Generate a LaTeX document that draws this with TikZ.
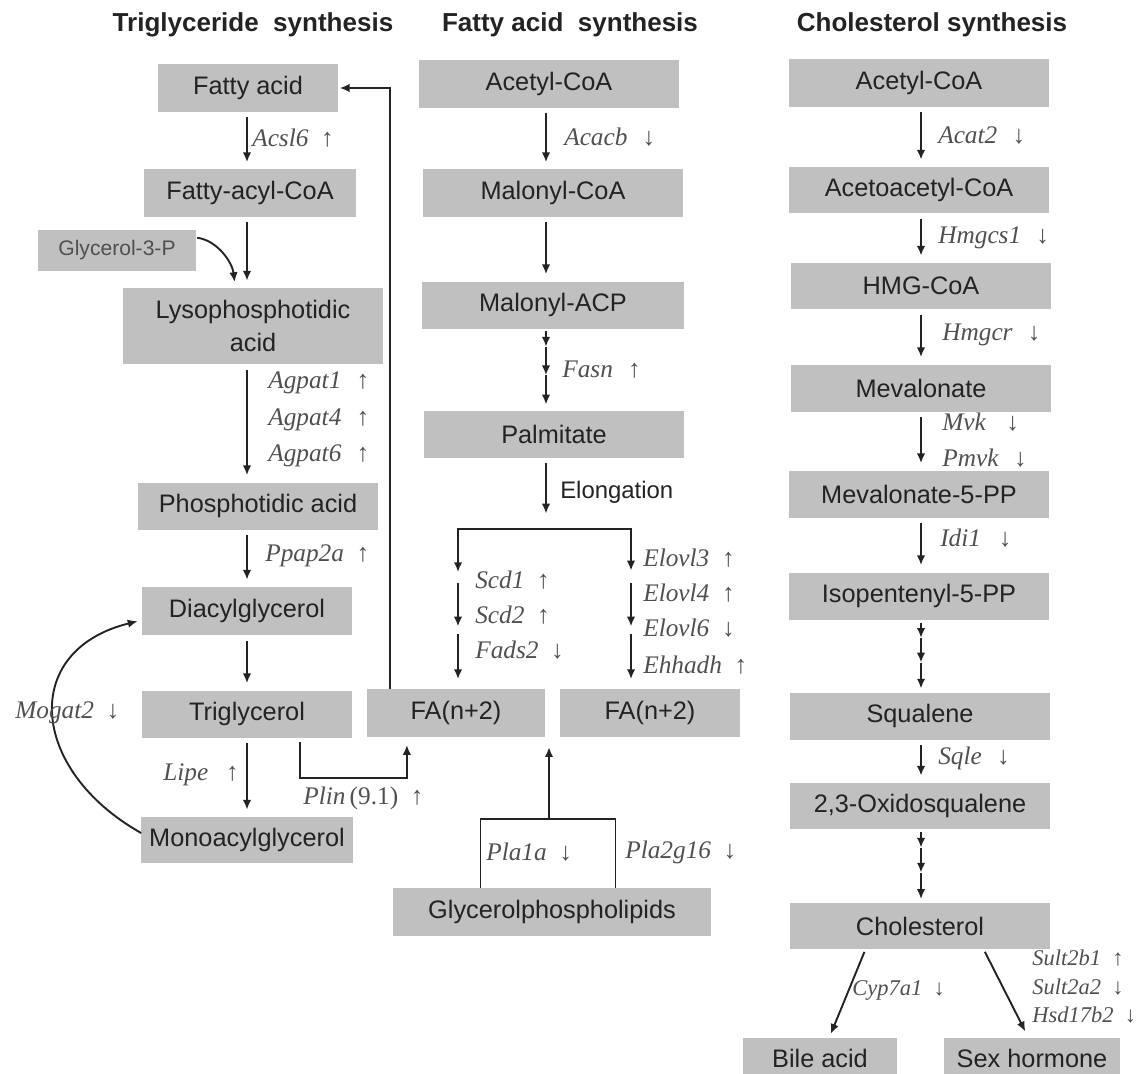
\documentclass[tikz,border=0pt]{standalone}
\usepackage{fontspec}
\setmainfont{Liberation Serif}
\setsansfont{Liberation Sans}
\usetikzlibrary{arrows.meta,calc}

\definecolor{boxgray}{RGB}{192,192,192}
\definecolor{ink}{RGB}{35,35,35}
\definecolor{genegray}{RGB}{80,80,80}

\begin{document}
\begin{tikzpicture}[x=0.025cm,y=-0.025cm,
    box/.style={fill=boxgray, inner sep=0pt, minimum height=1.175cm, text=ink, font=\sffamily\fontsize{18}{23}\selectfont},
    heading/.style={text=ink, font=\sffamily\bfseries\fontsize{18.5}{22}\selectfont},
    gene/.style={anchor=west, inner sep=0pt, text=genegray, font=\fontsize{18}{20}\selectfont},
    small gene/.style={gene, font=\fontsize{16}{18}\selectfont},
    wire/.style={draw=ink, line width=1.35pt},
    flow/.style={wire, -{Latex[length=7pt,width=6pt]}, shorten <=4pt, shorten >=5pt},
    relay/.style={flow, shorten <=0pt, shorten >=0pt}]
    \useasboundingbox (0,0) rectangle (1136,1073);

    % titles
    \node[heading] (ttl1) at (253,25) {Triglyceride\ \ synthesis};
    \node[heading] (ttl2) at (570,25) {Fatty acid\ \ synthesis};
    \node[heading] (ttl3) at (932,25) {Cholesterol synthesis};

    % triglyceride synthesis
    \node[box, minimum width=4.5cm] (tfa) at (248,88) {Fatty acid};
    \node[box, minimum width=5.275cm] (tacyl) at (250,193) {Fatty-acyl-CoA};
    \node[box, minimum width=3.925cm, minimum height=1.025cm, text=genegray, font=\sffamily\fontsize{15}{18}\selectfont] (tg3p) at (117,250) {Glycerol-3-P};
    \node[box, minimum width=6.475cm, minimum height=1.9cm, align=center] (tlyso) at (253,326) {Lysophosphotidic\\acid};
    \node[box, minimum width=5.975cm] (tpa) at (258,506) {Phosphotidic acid};
    \node[box, minimum width=5.25cm, minimum height=1.2cm] (tdag) at (247,611) {Diacylglycerol};
    \node[box, minimum width=5.25cm] (ttag) at (247,714) {Triglycerol};
    \node[box, minimum width=5.275cm, minimum height=1.15cm] (tmag) at (247,840) {Monoacylglycerol};
    \coordinate (tcol) at (247,0);

    \foreach \a/\b in {tfa/tacyl,tacyl/tlyso,tlyso/tpa,tpa/tdag,tdag/ttag,ttag/tmag}
        \draw[flow] (\a.south -| tcol) -- (\b.north -| tcol);

    \draw[relay, shorten <=1pt, shorten >=4pt] ($(tg3p.north east)!0.2!(tg3p.south east)$) .. controls +(22,3) and +(-3,-25) .. ($(tlyso.north west)!0.432!(tlyso.north east)$);
    \draw[relay, shorten >=3pt] ($(tmag.north west)!0.35!(tmag.south west)$) .. controls +(-112,-63) and +(-122,30) .. ($(tdag.north west)!0.69!(tdag.south west)$);

    \node[gene] (acsl6) at (252,138) {\textit{Acsl6}\enspace↑};
    \foreach \g/\y in {Agpat1/383,Agpat4/420,Agpat6/456}
        \node[gene] (\g) at (268,\y) {\textit{\g}\hspace{0.6em}↑};
    \node[gene] (ppap2a) at (265,556) {\textit{Ppap2a}\enspace↑};
    \node[gene] (lipe) at (163,775) {\textit{Lipe}\hspace{0.7em}↑};
    \node[gene] (mogat2) at (15,713) {\textit{Mogat2}\enspace↓};

    % fatty acid synthesis
    \node[box, minimum width=6.5cm] (facoa) at (549,84) {Acetyl-CoA};
    \node[box, minimum width=6.5cm] (malcoa) at (553,193) {Malonyl-CoA};
    \node[box, minimum width=6.525cm] (malacp) at (553,305) {Malonyl-ACP};
    \node[box, minimum width=6.5cm] (palm) at (554,434) {Palmitate};
    \node[box, minimum width=4.45cm, minimum height=1.2cm] (fan1) at (456,713) {FA(n+2)};
    \node[box, minimum width=4.475cm, minimum height=1.2cm] (fan2) at (650,713) {FA(n+2)};
    \node[box, minimum width=7.925cm, minimum height=1.2cm] (gpl) at (552,912) {Glycerolphospholipids};
    \coordinate (fcol) at (546,0);

    \draw[flow] (facoa.south -| fcol) -- (malcoa.north -| fcol);
    \draw[flow] (malcoa.south -| fcol) -- (malacp.north -| fcol);
    \coordinate (fasnA) at (malacp.south -| fcol);
    \coordinate (fasnB) at (palm.north -| fcol);
    \foreach \a/\b in {0.03/0.22,0.22/0.57,0.57/0.93}
        \draw[relay] ($(fasnA)!\a!(fasnB)$) -- ($(fasnA)!\b!(fasnB)$);

    \coordinate (splitL) at (458,529);
    \coordinate (splitR) at (631,529);
    \draw[flow, shorten >=11pt] (palm.south -| fcol) -- (splitL -| fcol);
    \coordinate (endL) at (splitL |- fan1.north);
    \coordinate (endR) at (splitR |- fan2.north);
    \draw[relay] (splitR) -- (splitL) -- ($(splitL)!0.27!(endL)$);
    \draw[relay] (splitL) -- (splitR) -- ($(splitR)!0.26!(endR)$);
    \foreach \s/\e in {splitL/endL,splitR/endR}
        \foreach \a/\b in {0.34/0.61,0.66/0.94}
            \draw[relay] ($(\s)!\a!(\e)$) -- ($(\s)!\b!(\e)$);

    % back to fatty acid
    \draw[relay, shorten >=1pt] ($(fan1.north west)!0.13!(fan1.north east)$) |- (tfa.east);
    \coordinate (plinS) at ($(ttag.south west)!0.75!(ttag.south east)$);
    \coordinate (plinE) at ($(fan1.south west)!0.225!(fan1.south east)$);
    \draw[flow, shorten <=3pt, shorten >=5.5pt] (plinS) |- ($(plinE)+(0,41)$) -- (plinE);
    \coordinate (plaJ) at (549,819);
    \draw[wire] ($(gpl.north west)!0.275!(gpl.north east)$) |- (plaJ) -| ($(gpl.north west)!0.70!(gpl.north east)$);
    \draw[relay, shorten >=7pt] (plaJ) -- (plaJ |- fan1.south);

    \node[gene] (acacb) at (564,137) {\textit{Acacb}\hspace{0.6em}↓};
    \node[gene] (fasn) at (562,370) {\textit{Fasn}\hspace{0.6em}↑};
    \node[anchor=west, inner sep=0pt, text=ink, font=\sffamily\fontsize{17}{20}\selectfont] (elong) at (560,492) {Elongation};
    \foreach \g/\y/\d in {Scd1/580/↑,Scd2/615/↑,Fads2/650/↓}
        \node[gene] (\g) at (475,\y) {\textit{\g}\enspace\d};
    \foreach \g/\y/\d in {Elovl3/558/↑,Elovl4/593/↑,Elovl6/628/↓,Ehhadh/665/↑}
        \node[gene] (\g) at (643,\y) {\textit{\g}\enspace\d};
    \node[gene] (plin) at (303,798) {\textit{Plin}\,(9.1)\enspace↑};
    \node[gene] (pla1a) at (486,852) {\textit{Pla1a}\enspace↓};
    \node[gene] (pla2g16) at (625,852) {\textit{Pla2g16}\enspace↓};

    % cholesterol synthesis
    \node[box, minimum width=6.5cm] (cacoa) at (919,83) {Acetyl-CoA};
    \node[box, minimum width=6.5cm, minimum height=1.15cm] (aacoa) at (919,190) {Acetoacetyl-CoA};
    \node[box, minimum width=6.5cm, minimum height=1.15cm] (hmg) at (921,286) {HMG-CoA};
    \node[box, minimum width=6.5cm] (mev) at (921,388) {Mevalonate};
    \node[box, minimum width=6.5cm] (mevpp) at (919,494) {Mevalonate-5-PP};
    \node[box, minimum width=6.5cm] (ipp) at (919,596) {Isopentenyl-5-PP};
    \node[box, minimum width=6.475cm] (squa) at (920,716) {Squalene};
    \node[box, minimum width=6.475cm, minimum height=1.15cm] (oxsq) at (920,806) {2,3-Oxidosqualene};
    \node[box, minimum width=6.475cm, minimum height=1.15cm] (chol) at (920,926) {Cholesterol};
    \node[box, minimum width=3.825cm, minimum height=1.0cm] (bile) at (820,1058) {Bile acid};
    \node[box, minimum width=4.4cm, minimum height=1.0cm] (sexh) at (1032,1058) {Sex hormone};
    \coordinate (ccol) at (921,0);

    \foreach \a/\b in {cacoa/aacoa,aacoa/hmg,hmg/mev,mev/mevpp,mevpp/ipp,squa/oxsq}
        \draw[flow] (\a.south -| ccol) -- (\b.north -| ccol);
    \foreach \a/\b in {ipp/squa,oxsq/chol}
        \foreach \p/\q in {0.04/0.25,0.25/0.59,0.59/0.95}
            \draw[relay] ($(\a.south -| ccol)!\p!(\b.north -| ccol)$) -- ($(\a.south -| ccol)!\q!(\b.north -| ccol)$);
    \draw[flow, shorten <=2pt, shorten >=3pt] ($(chol.south west)!0.29!(chol.south east)$) -- ($(bile.north west)!0.56!(bile.north east)$);
    \draw[flow, shorten <=2pt, shorten >=5pt] ($(chol.south west)!0.745!(chol.south east)$) -- ($(sexh.north west)!0.48!(sexh.north east)$);

    \node[gene] (acat2) at (938,135) {\textit{Acat2}\hspace{0.6em}↓};
    \node[gene] (hmgcs1) at (938,238) {\textit{Hmgcs1}\hspace{0.6em}↓};
    \node[gene] (hmgcr) at (942,335) {\textit{Hmgcr}\hspace{0.6em}↓};
    \node[gene] (mvk) at (942,422) {\textit{Mvk}\hspace{0.8em}↓};
    \node[gene] (pmvk) at (942,458) {\textit{Pmvk}\hspace{0.6em}↓};
    \node[gene] (idi1) at (940,538) {\textit{Idi1}\hspace{0.7em}↓};
    \node[gene] (sqle) at (938,758) {\textit{Sqle}\hspace{0.6em}↓};
    \node[small gene] (cyp7a1) at (852,990) {\textit{Cyp7a1}\enspace↓};
    \foreach \g/\y/\d in {Sult2b1/958/↑,Sult2a2/987/↓,Hsd17b2/1015/↓}
        \node[small gene] (\g) at (1032,\y) {\textit{\g}\enspace\d};
\end{tikzpicture}
\end{document}
